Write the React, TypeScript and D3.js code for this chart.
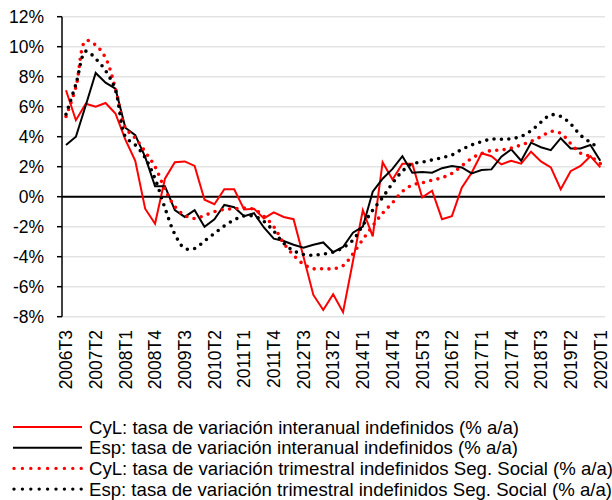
import React from "react";
import * as d3 from "d3";

const quarters = [
  "2006T3","2006T4",
  "2007T1","2007T2","2007T3","2007T4",
  "2008T1","2008T2","2008T3","2008T4",
  "2009T1","2009T2","2009T3","2009T4",
  "2010T1","2010T2","2010T3","2010T4",
  "2011T1","2011T2","2011T3","2011T4",
  "2012T1","2012T2","2012T3","2012T4",
  "2013T1","2013T2","2013T3","2013T4",
  "2014T1","2014T2","2014T3","2014T4",
  "2015T1","2015T2","2015T3","2015T4",
  "2016T1","2016T2","2016T3","2016T4",
  "2017T1","2017T2","2017T3","2017T4",
  "2018T1","2018T2","2018T3","2018T4",
  "2019T1","2019T2","2019T3","2019T4",
  "2020T1",
];

const tickLabels = [
  "2006T3","2007T2","2008T1","2008T4","2009T3","2010T2","2011T1","2011T4",
  "2012T3","2013T2","2014T1","2014T4","2015T3","2016T2","2017T1","2017T4",
  "2018T3","2019T2","2020T1",
];

const yTicks = [12, 10, 8, 6, 4, 2, 0, -2, -4, -6, -8];

// CyL: tasa de variación interanual indefinidos
const cylInter = [
  7.1, 5.1, 6.2, 6.0, 6.25, 5.55, 3.8, 2.4, -0.8, -1.8,
  1.2, 2.3, 2.35, 2.05, -0.2, -0.5, 0.5, 0.5, -0.85, -0.8,
  -1.45, -1.05, -1.35, -1.5, -4.0, -6.55, -7.55, -6.5, -7.7, -4.3,
  -0.9, -2.65, 2.3, 1.15, 2.2, 2.2, -0.05, 0.4, -1.5, -1.3,
  0.6, 1.6, 2.9, 2.7, 2.15, 2.4, 2.2, 3.0, 2.35, 1.95,
  0.5, 1.7, 2.05, 2.7, 1.95,
];

// Esp: tasa de variación interanual indefinidos
const espInter = [
  3.45, 4.0, 6.1, 8.25, 7.6, 7.2, 4.6, 4.1, 2.65, 0.7,
  0.7, -0.9, -1.35, -0.9, -2.0, -1.5, -0.55, -0.7, -1.3, -1.1,
  -2.05, -2.8, -2.95, -3.2, -3.4, -3.2, -3.05, -3.7, -3.35, -2.4,
  -2.0, 0.33, 1.2, 1.85, 2.7, 1.6, 1.65, 1.6, 1.9, 2.05,
  1.95, 1.55, 1.78, 1.82, 2.67, 3.15, 2.4, 3.6, 3.3, 3.1,
  3.9, 3.22, 3.22, 3.45, 2.4,
];

// CyL: tasa de variación trimestral indefinidos Seg. Social
const cylSS = [
  5.35, 7.3, 10.4, 10.1, 9.25, 7.2, 4.6, 3.9, 3.0, 2.0,
  0.5, -0.65, -1.25, -1.45, -1.25, -1.0, -0.85, -0.8, -0.75, -0.85,
  -1.3, -2.0, -3.1, -3.9, -4.5, -4.8, -4.8, -4.8, -4.6, -3.8,
  -2.85, -1.95, -1.1, -0.4, 0.35, 0.78, 0.93, 1.1, 1.27, 1.55,
  2.05, 2.56, 2.88, 3.08, 3.11, 3.25, 3.45, 3.7, 4.0, 4.35,
  4.22, 3.55, 2.9, 2.67, 2.2,
];

// Esp: tasa de variación trimestral indefinidos Seg. Social
const espSS = [
  5.5, 7.5, 9.7, 9.2, 8.4, 7.1, 4.0, 3.45, 2.6, 1.2,
  -0.75, -2.5, -3.45, -3.45, -2.95, -2.45, -1.95, -1.55, -1.28, -1.3,
  -1.65, -2.3, -3.1, -3.6, -3.85, -3.9, -3.82, -3.7, -3.4, -2.9,
  -1.9, -0.9, -0.05, 0.9, 1.7, 2.2, 2.3, 2.45, 2.6, 2.78,
  3.15, 3.45, 3.67, 3.84, 3.83, 3.87, 4.02, 4.4, 4.97, 5.45,
  5.35, 4.85, 4.1, 3.62, 3.2,
];

const legendLabels = [
  "CyL: tasa de variación interanual indefinidos (% a/a)",
  "Esp: tasa de variación interanual indefinidos (% a/a)",
  "CyL: tasa de variación trimestral indefinidos Seg. Social (% a/a)",
  "Esp: tasa de variación trimestral indefinidos Seg. Social (% a/a)",
];

const RED = "#ff0000";
const BLACK = "#000000";
const FONT = "'Liberation Sans', Arial, sans-serif";

export default function App() {
  const W = 612;
  const H = 500;
  const x = d3.scalePoint<string>().domain(quarters).range([66, 600.3]);
  const y = d3.scaleLinear().domain([-8, 12]).range([316.7, 16.7]);

  const idx = quarters.map((_, i) => i);
  const lineStraight = (vals: number[]) =>
    d3
      .line<number>()
      .x((i) => x(quarters[i]) as number)
      .y((i) => y(vals[i]))
      .curve(d3.curveLinear)(idx) as string;
  const lineSmooth = (vals: number[]) =>
    d3
      .line<number>()
      .x((i) => x(quarters[i]) as number)
      .y((i) => y(vals[i]))
      .curve(d3.curveCatmullRom.alpha(0.5))(idx) as string;

  const series = [
    { vals: cylInter, color: RED, dotted: false },
    { vals: espInter, color: BLACK, dotted: false },
    { vals: cylSS, color: RED, dotted: true },
    { vals: espSS, color: BLACK, dotted: true },
  ];

  const axisX = 62;
  const plotRight = 605;
  const fs = 17.5;
  const legendFs = 18.6;

  return (
    <svg
      width={W}
      height={H}
      style={{ position: "absolute", left: 0, top: 0, background: "#fff" }}
      fontFamily={FONT}
    >
      {/* gridlines */}
      {yTicks.map((t) =>
        t === 0 ? null : (
          <line
            key={"g" + t}
            x1={axisX}
            x2={plotRight}
            y1={y(t)}
            y2={y(t)}
            stroke="#e3e3e3"
            strokeWidth={1.5}
          />
        )
      )}
      {/* y axis */}
      <line x1={axisX} x2={axisX} y1={y(12)} y2={y(-8)} stroke="#000" strokeWidth={1.5} />
      {yTicks.map((t) => (
        <g key={"t" + t}>
          <line x1={axisX - 5} x2={axisX} y1={y(t)} y2={y(t)} stroke="#000" strokeWidth={1.5} />
          <text
            x={44}
            y={y(t)}
            dy="0.36em"
            textAnchor="end"
            fontSize={fs}
            fill="#000"
          >
            {t + "%"}
          </text>
        </g>
      ))}
      {/* zero line */}
      <line x1={axisX} x2={plotRight} y1={y(0)} y2={y(0)} stroke="#000" strokeWidth={2} />

      {/* series */}
      {series.map((s, k) =>
        s.dotted ? (
          <path
            key={"s" + k}
            d={lineSmooth(s.vals)}
            fill="none"
            stroke={s.color}
            strokeWidth={3.6}
            strokeLinecap="round"
            strokeDasharray="0 7.4"
          />
        ) : (
          <path
            key={"s" + k}
            d={lineStraight(s.vals)}
            fill="none"
            stroke={s.color}
            strokeWidth={2}
            strokeLinejoin="miter"
          />
        )
      )}

      {/* x labels */}
      {tickLabels.map((lab) => {
        const px = x(lab) as number;
        return (
          <text
            key={"x" + lab}
            transform={`translate(${px},330) rotate(-90)`}
            textAnchor="end"
            dy="0.36em"
            fontSize={fs}
            fill="#000"
          >
            {lab}
          </text>
        );
      })}

      {/* legend */}
      {legendLabels.map((lab, k) => {
        const s = series[k];
        const ly = 427 + k * 20.7;
        return (
          <g key={"l" + k}>
            {s.dotted ? (
              <line
                x1={14}
                x2={82}
                y1={ly}
                y2={ly}
                stroke={s.color}
                strokeWidth={3.4}
                strokeLinecap="round"
                strokeDasharray="0 8.4"
              />
            ) : (
              <line x1={13} x2={82} y1={ly} y2={ly} stroke={s.color} strokeWidth={2} />
            )}
            <text x={89} y={ly} dy="0.36em" fontSize={legendFs} fill="#000">
              {lab}
            </text>
          </g>
        );
      })}
    </svg>
  );
}
